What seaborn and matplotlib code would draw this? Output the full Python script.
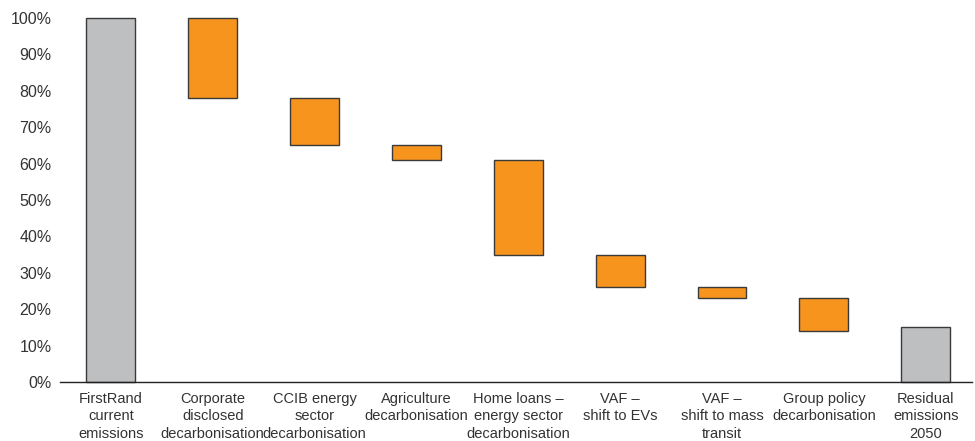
import numpy as np
import pandas as pd
import seaborn as sns
import matplotlib.pyplot as plt
from matplotlib.ticker import PercentFormatter

sns.set_style("white")
plt.rcParams["font.family"] = ["Liberation Sans", "DejaVu Sans"]

# ----------------------------
# data (% of current emissions)
# ----------------------------
categories = [
    "FirstRand\ncurrent\nemissions",
    "Corporate\ndisclosed\ndecarbonisation",
    "CCIB energy\nsector\ndecarbonisation",
    "Agriculture\ndecarbonisation",
    "Home loans –\nenergy sector\ndecarbonisation",
    "VAF –\nshift to EVs",
    "VAF –\nshift to mass\ntransit",
    "Group policy\ndecarbonisation",
    "Residual\nemissions\n2050",
]
bar_top = [100, 100, 78, 65, 61, 35, 26, 23, 15]
bar_bottom = [0, 78, 65, 61, 35, 26, 23, 14, 0]
is_total = [True, False, False, False, False, False, False, False, True]

df = pd.DataFrame({"category": categories, "top": bar_top, "bottom": bar_bottom})
df["height"] = df["top"] - df["bottom"]

grey = "#bebfc1"
orange = "#f7941d"
text_col = "#333333"

fig = plt.figure(figsize=(9.75, 4.41), dpi=100)
ax = fig.add_axes([0.0615, 0.134, 0.935, 0.825])

sns.barplot(data=df, x="category", y="height", order=categories,
            color=orange, edgecolor="#3a3a3a", linewidth=1.0,
            width=0.48, ax=ax, errorbar=None)

# float each bar to its base and colour the totals grey
for patch, base, tot in zip(ax.patches, df["bottom"], is_total):
    patch.set_y(base)
    patch.set_facecolor(grey if tot else orange)
    patch.set_clip_on(False)

ax.set_ylim(0, 100)
ax.set_xlim(-0.5, 8.45)
ax.set_yticks(np.arange(0, 101, 10))
ax.yaxis.set_major_formatter(PercentFormatter(100, decimals=0))
ax.set_xlabel("")
ax.set_ylabel("")

sns.despine(ax=ax, left=True, top=True, right=True)
ax.spines["bottom"].set_color("#222222")
ax.spines["bottom"].set_linewidth(1.0)

ax.tick_params(axis="both", length=0, colors=text_col)
ax.tick_params(axis="y", pad=6, labelsize=11.5)
ax.tick_params(axis="x", pad=7, labelsize=10.5)
for lbl in ax.get_xticklabels():
    lbl.set_linespacing(1.33)

fig.savefig("out.png", dpi=100)
